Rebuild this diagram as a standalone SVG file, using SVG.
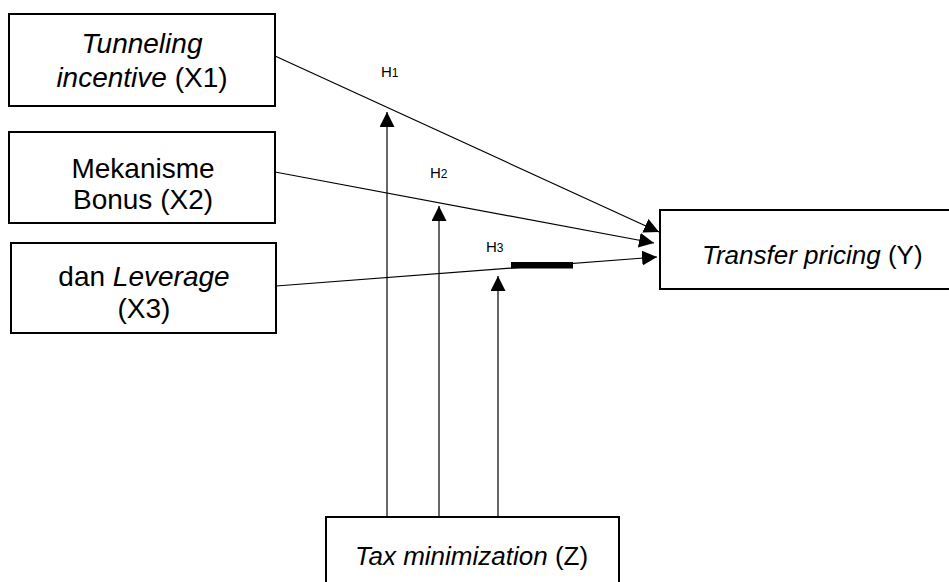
<svg xmlns="http://www.w3.org/2000/svg" width="949" height="582" viewBox="0 0 949 582">
<style>
.box{fill:#fff;stroke:#000;stroke-width:2}
.t{font-family:"Liberation Sans",Arial,sans-serif;font-size:28px;fill:#000;text-anchor:middle}
.t2{font-family:"Liberation Sans",Arial,sans-serif;font-size:26px;fill:#000}
.h{font-family:"Liberation Sans",Arial,sans-serif;font-size:15px;fill:#000}
.c{stroke:#000;stroke-width:1.2;fill:none;marker-end:url(#ah)}
</style>
<defs>
<marker id="ah" markerUnits="userSpaceOnUse" markerWidth="16" markerHeight="16" viewBox="0 0 16 16" refX="15" refY="7.5" orient="auto">
<path d="M0,0 L15,7.5 L0,15 z" fill="#000"/>
</marker>
</defs>
<rect width="949" height="582" fill="#fff"/>
<g id="connectors">
<line class="c" x1="275" y1="56" x2="659" y2="232"/>
<line class="c" x1="275" y1="172" x2="654" y2="243"/>
<line class="c" x1="276" y1="286" x2="657" y2="257"/>
<line class="c" x1="387" y1="517" x2="387" y2="112"/>
<line class="c" x1="439" y1="517" x2="439" y2="206"/>
<line class="c" x1="498" y1="517" x2="498" y2="276"/>
<rect x="511" y="262" width="62" height="6.5" fill="#000"/>
<text class="h" x="381" y="77">H<tspan font-size="12">1</tspan></text>
<text class="h" x="430" y="178">H<tspan font-size="12">2</tspan></text>
<text class="h" x="486" y="252">H<tspan font-size="12">3</tspan></text>
</g>
<g id="x1">
<rect class="box" x="9" y="14" width="266" height="92"/>
<text class="t" x="142" y="53" font-style="italic">Tunneling</text>
<text class="t" x="142" y="87"><tspan font-style="italic">incentive</tspan> (X1)</text>
</g>
<g id="x2">
<rect class="box" x="9" y="132" width="266" height="91"/>
<text class="t" x="143" y="178">Mekanisme</text>
<text class="t" x="143" y="209">Bonus (X2)</text>
</g>
<g id="x3">
<rect class="box" x="11" y="243" width="265" height="90"/>
<text class="t" x="144" y="286">dan <tspan font-style="italic">Leverage</tspan></text>
<text class="t" x="144" y="318">(X3)</text>
</g>
<g id="y">
<rect class="box" x="660" y="210" width="300" height="79"/>
<text class="t2" x="702" y="264"><tspan font-style="italic">Transfer pricing</tspan> (Y)</text>
</g>
<g id="z">
<rect class="box" x="326" y="517" width="293" height="75"/>
<text class="t2" x="355" y="565"><tspan font-style="italic">Tax minimization</tspan> (Z)</text>
</g>
</svg>
